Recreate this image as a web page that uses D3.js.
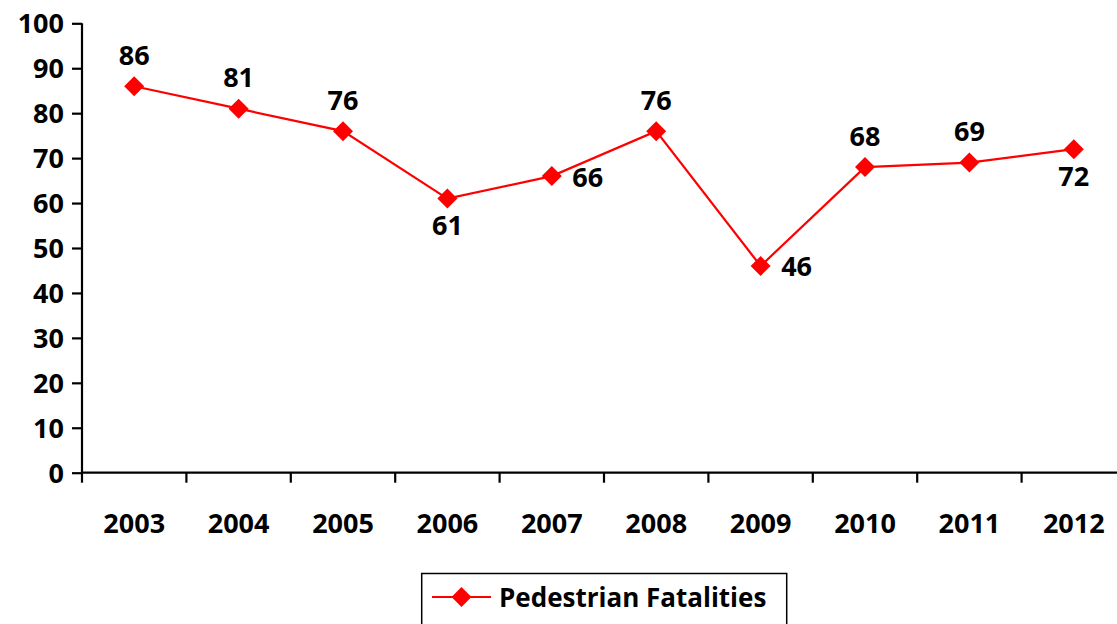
<!DOCTYPE html>
<html><head><meta charset="utf-8">
<script src="https://cdn.jsdelivr.net/npm/d3@7"></script>
<style>body{margin:0;background:#fff}svg{display:block}text{font-family:"Open Sans",sans-serif;font-weight:700;fill:#000}</style>
</head><body><svg id="c" width="1117" height="624"></svg>
<script>
const years = ["2003","2004","2005","2006","2007","2008","2009","2010","2011","2012"];
const fatalities = [86,81,76,61,66,76,46,68,69,72];
const labelPos = ["above","above","above","below","right","above","right","above","above","below"];
const yTicks = [0,10,20,30,40,50,60,70,80,90,100];
const seriesName = "Pedestrian Fatalities";

const svg = d3.select("#c");
const pLeft = 82, pTop = 23.3, pBottom = 472.7, step = 104.4;
const x = d3.scaleBand().domain(years).range([pLeft, pLeft + step*years.length]).padding(0);
const y = d3.scaleLinear().domain([0,100]).range([pBottom, pTop]);

// y axis
const ya = svg.append("g").attr("transform",`translate(${pLeft},0)`)
  .call(d3.axisLeft(y).tickValues(yTicks).tickSize(10).tickPadding(8));
ya.selectAll("path,line").attr("stroke","#000").attr("stroke-width",2.2);
ya.select("path").attr("d",`M0,${pTop}V${pBottom}`);
ya.selectAll("text").style("font-size","27px").attr("dy","0.35em");

// x axis
const xa = svg.append("g").attr("transform",`translate(0,${pBottom})`)
  .call(d3.axisBottom(x).tickSize(0).tickPadding(0));
xa.select("path").attr("d",`M${pLeft},0H1117`).attr("stroke","#000").attr("stroke-width",2.2);
xa.selectAll("text").style("font-size","27px").attr("y",50.5).attr("dy","0.35em");
const edges = years.map(d => x(d)).concat([x(years[years.length-1]) + x.bandwidth()]);
xa.selectAll("line.edge").data(edges).enter().append("line")
  .attr("x1",d=>d).attr("x2",d=>d).attr("y1",0).attr("y2",10)
  .attr("stroke","#000").attr("stroke-width",2.2);

const cx = d => x(d) + x.bandwidth()/2;
const line = d3.line().x((d,i)=>cx(years[i])).y(d=>y(d));
svg.append("path").datum(fatalities).attr("d",line).attr("fill","none")
  .attr("stroke","#ff0000").attr("stroke-width",2.2);

const diamond = d3.symbol().type(d3.symbolSquare).size(200);
svg.selectAll("path.m").data(fatalities).enter().append("path")
  .attr("d",diamond())
  .attr("transform",(d,i)=>`translate(${cx(years[i])},${y(d)}) rotate(45)`)
  .attr("fill","#ff0000");

svg.selectAll("text.lbl").data(fatalities).enter().append("text")
  .attr("x",(d,i)=> labelPos[i]==="right" ? cx(years[i])+36 : cx(years[i]))
  .attr("y",(d,i)=> y(d) + (labelPos[i]==="above" ? -31 : labelPos[i]==="below" ? 27 : 1))
  .attr("dy","0.35em").attr("text-anchor","middle").style("font-size","27px")
  .text(d=>d);

// legend
const lg = svg.append("g");
lg.append("rect").attr("x",421.7).attr("y",573.5).attr("width",365).attr("height",60)
  .attr("fill","#fff").attr("stroke","#000").attr("stroke-width",1.5);
lg.append("line").attr("x1",432).attr("x2",491).attr("y1",597).attr("y2",597)
  .attr("stroke","#ff0000").attr("stroke-width",2.2);
lg.append("path").attr("d",diamond()).attr("transform","translate(461.5,597) rotate(45)").attr("fill","#ff0000");
lg.append("text").attr("x",499).attr("y",598).attr("dy","0.35em").style("font-size","26px").text(seriesName);
</script></body></html>
